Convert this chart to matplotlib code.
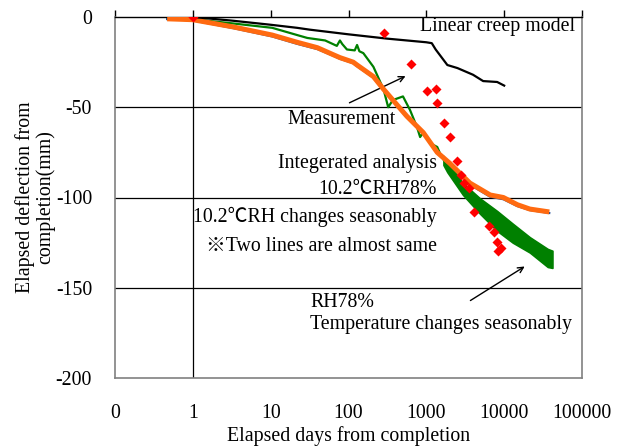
import numpy as np
import matplotlib
matplotlib.use("Agg")
from matplotlib import pyplot as plt

# x values are log10(elapsed days), y values are deflection (mm)
linear_x = [0, 0.5, 1.0, 1.34, 1.5, 2.0, 2.5, 3.0, 3.07, 3.12, 3.27, 3.40, 3.60, 3.73, 3.91, 4.0]
linear_y = [0, -2, -4.3, -6, -7, -9.6, -12, -14, -14.5, -18, -26.6, -28.3, -32, -35.5, -36, -38]

orange_x = [-0.33, 0, 0.52, 1.02, 1.34, 1.6, 1.81, 1.89, 2.06, 2.11, 2.32, 2.45, 2.57, 2.75,
            2.96, 3.14, 3.30, 3.56, 3.82, 3.99, 4.17, 4.33, 4.58]
orange_y = [-1, -1.5, -5.5, -10, -14, -17, -21, -22.5, -25, -26.6, -33, -40, -46, -55,
            -64, -75, -81, -92, -98.6, -100, -104, -106.4, -108]

blue_x = [-0.33, 0, 0.52, 1.02, 1.34, 1.6, 1.81, 1.89, 2.06, 2.11, 2.32, 2.45, 2.57, 2.75,
          2.96, 3.14, 3.30, 3.56, 3.82, 3.99, 4.17, 4.33, 4.58]
blue_y = [-1.2, -1.9, -6.2, -10.8, -14.9, -17.8, -21.6, -23.2, -25.6, -27.3, -33.6, -40.5, -46.6, -55.6,
          -64.5, -75.5, -81.8, -92.9, -99.6, -101, -104.8, -107, -108.6]

green_x = [-0.33, 0, 0.5, 1.02, 1.34, 1.47, 1.7, 1.85, 1.89, 1.92, 1.98, 2.08, 2.11, 2.14, 2.19,
           2.32, 2.45, 2.51, 2.57, 2.70, 2.79, 2.88, 2.92, 2.96, 3.05, 3.14, 3.18, 3.22, 3.27]
green_y = [-1, -1.2, -3.5, -6, -10, -11.6, -13, -16, -13, -15, -18, -18.5, -15.5, -19, -20,
           -27.6, -40, -50, -46, -44, -51.5, -61, -66.5, -64, -70, -72, -76, -79, -81]

band_x = [3.22, 3.27, 3.47, 3.69, 3.91, 4.11, 4.33, 4.56, 4.62]
band_top = [-77, -80, -92, -100.5, -107.5, -114.5, -122, -128.5, -129.5]
band_bot = [-82, -86, -98.5, -109, -118.5, -125, -130.5, -138.5, -139]

meas_x = [0, 2.45, 2.80, 3.01, 3.12, 3.14, 3.23, 3.31, 3.40, 3.45, 3.49, 3.55, 3.61,
          3.81, 3.87, 3.91, 3.96, 3.92]
meas_y = [0, -8.9, -26, -41, -40, -47.6, -59, -66.5, -80, -87.5, -92, -95, -108,
          -116, -119, -124.6, -128, -129.6]

xtick_pos = [-1, 0, 1, 2, 3, 4, 5]
xtick_lab = ["0", "1", "10", "100", "1000", "10000", "100000"]
ytick_pos = [0, -50, -100, -150, -200]

fam = ["Liberation Serif", "Noto Sans CJK JP", "DejaVu Sans"]
plt.rcParams["font.family"] = fam
fs = 14.3

fig = plt.figure(figsize=(6.22, 4.47), dpi=100)
ax = fig.add_axes([115/622, (447-378)/447, (582-115)/622, (378-17)/447])

ax.set_xlim(-1, 5)
ax.set_ylim(-200, 0)

# gridlines and the 1-day line
for yv in [-50, -100, -150]:
    ax.axhline(yv, color="black", lw=0.9, zorder=1)
ax.axvline(0, color="black", lw=0.9, zorder=1)

ax.fill_between(band_x, band_top, band_bot, color="#008000", lw=1.2, zorder=2)
ax.plot(green_x, green_y, color="#008000", lw=1.6, zorder=2)
ax.plot(blue_x, blue_y, color="#1f4e9a", lw=1.5, zorder=3)
ax.plot(orange_x, orange_y, color="#ff6a10", lw=3.6, zorder=4, solid_capstyle="butt")
ax.plot(linear_x, linear_y, color="black", lw=1.6, zorder=5)
ax.scatter(meas_x, meas_y, marker="D", s=26, color="#ff0000", lw=0, zorder=6)

for s in ["left", "right", "bottom"]:
    ax.spines[s].set_color("#808080")
    ax.spines[s].set_linewidth(1.2)
ax.spines["top"].set_color("black")
ax.spines["top"].set_linewidth(1.0)

ax.set_xticks(xtick_pos)
ax.set_xticklabels(xtick_lab, fontsize=fs)
ax.tick_params(axis="x", bottom=False, top=True, labelbottom=True, labeltop=False,
               direction="out", length=5, width=1, pad=14)
ax.set_yticks(ytick_pos)
ax.set_yticklabels([str(v) for v in ytick_pos], fontsize=fs)
ax.tick_params(axis="y", left=False, pad=13)

ax.set_xlabel("Elapsed days from completion", fontsize=fs, labelpad=2)
ax.set_ylabel("Elapsed deflection from\ncompletion(mm)", fontsize=fs, linespacing=1.05)
ax.yaxis.set_label_coords(-0.128, 0.5)

ax.text(4.91, -5.5, "Linear creep model", fontsize=fs, ha="right", va="center")
ax.text(1.917, -57, "Measurement", fontsize=fs, ha="center", va="center")
ax.annotate("", xy=(2.765, -32.1), xytext=(1.98, -48.2),
            arrowprops=dict(arrowstyle="->", color="black", lw=1))
ax.text(3.137, -80.9, "Integerated analysis", fontsize=fs, ha="right", va="center")
ax.text(3.137, -95.8, "10.2℃RH78%", fontsize=fs, ha="right", va="center")
ax.text(3.137, -110.8, "10.2℃RH changes seasonably", fontsize=fs, ha="right", va="center")
ax.text(3.137, -127.4, "※Two lines are almost same", fontsize=fs, ha="right", va="center")
ax.text(1.505, -157.9, "RH78%", fontsize=fs, ha="left", va="center")
ax.text(1.505, -170.6, "Temperature changes seasonably", fontsize=fs, ha="left", va="center")
ax.annotate("", xy=(4.294, -137.4), xytext=(3.536, -157.9),
            arrowprops=dict(arrowstyle="->", color="black", lw=1))

fig.savefig("out.png", dpi=100)
